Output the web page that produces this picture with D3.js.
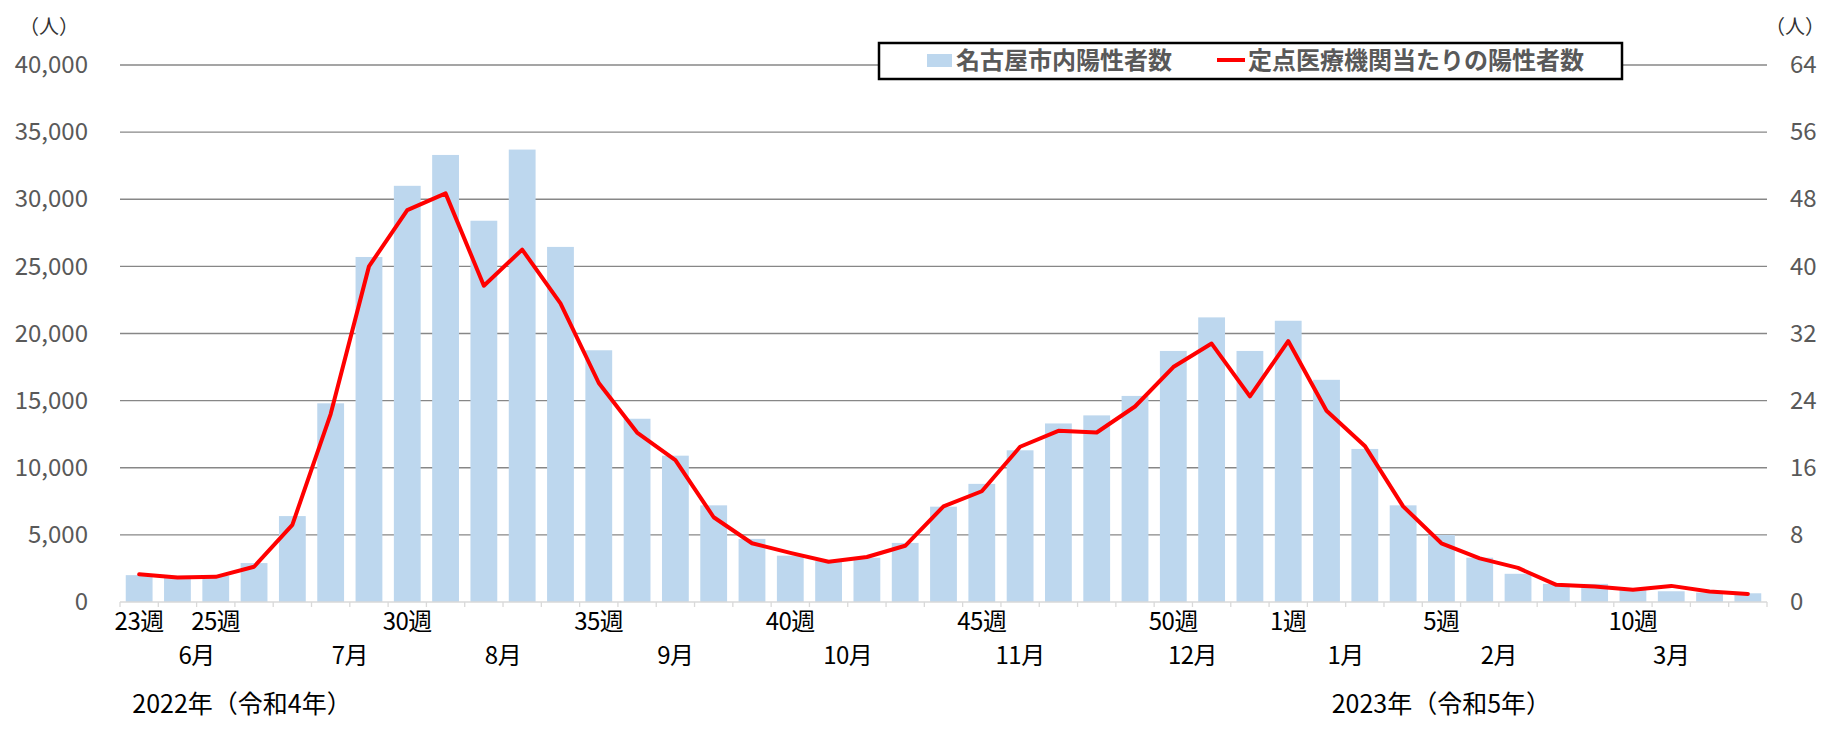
<!DOCTYPE html>
<html><head><meta charset="utf-8">
<script src="https://cdn.jsdelivr.net/npm/d3@7"></script>
<style>
body{margin:0;background:#fff}
svg{display:block}
text{font-family:"Noto Sans CJK JP","Noto Sans",sans-serif}
</style>
</head><body>
<svg id="c" width="1827" height="732"></svg>
<script>
// ---- data ----
const weeks = ["23週","24週","25週","26週","27週","28週","29週","30週","31週","32週","33週","34週","35週","36週","37週","38週","39週","40週","41週","42週","43週","44週","45週","46週","47週","48週","49週","50週","51週","52週","1週","2週","3週","4週","5週","6週","7週","8週","9週","10週","11週","12週","13週"];
const cases = [2000,1950,1950,2900,6400,14800,25700,31000,33300,28400,33700,26450,18750,13650,10900,7200,4700,3450,3050,3300,4400,7100,8800,11300,13300,13900,15350,18700,21200,18700,20950,16550,11400,7200,4990,3300,2100,1350,1350,1000,800,700,650];
const perSentinel = [3.3,2.93,3.0,4.2,9.2,22.4,40.0,46.7,48.7,37.7,42.0,35.6,26.1,20.2,16.9,10.1,7.0,5.86,4.8,5.36,6.7,11.4,13.2,18.5,20.4,20.2,23.3,28.0,30.8,24.5,31.1,22.8,18.6,11.4,7.0,5.2,4.06,2.05,1.84,1.46,1.92,1.26,0.96];
const shownWeeks = ["23週","25週","30週","35週","40週","45週","50週","1週","5週","10週"];
const months = ["6月","7月","8月","9月","10月","11月","12月","1月","2月","3月"];
const monthFirstWeek = ["23週","27週","31週","35週","40週","44週","49週","1週","5週","9週"];
const monthLastWeek  = ["26週","30週","34週","39週","43週","48週","52週","4週","8週","13週"];
const years = ["2022年（令和4年）","2023年（令和5年）"];
const yearAnchorWeek = ["26週","5週"];
const leftTicks = [0,5000,10000,15000,20000,25000,30000,35000,40000];
const rightTicks = [0,8,16,24,32,40,48,56,64];
const seriesNames = ["名古屋市内陽性者数","定点医療機関当たりの陽性者数"];
const unitLabel = "（人）";

// ---- layout ----
const L = 120, R = 1767, T = 65, B = 602;
const svg = d3.select("#c");
const FONT = '"Noto Sans CJK JP","Noto Sans",sans-serif';

const x = d3.scaleBand().domain(weeks).range([L, R]).paddingInner(0.3).paddingOuter(0.15);
const yL = d3.scaleLinear().domain([0, 40000]).range([B, T]);
const yR = d3.scaleLinear().domain([0, 64]).range([B, T]);
const step = x.step();
const cx = w => x(w) + x.bandwidth() / 2;

// gridlines
svg.append("g").selectAll("line").data(leftTicks.filter(d => d > 0)).join("line")
  .attr("x1", L).attr("x2", R)
  .attr("y1", d => yL(d)).attr("y2", d => yL(d))
  .attr("stroke", "#878787").attr("stroke-width", 1.3);

// bars
svg.append("g").selectAll("rect").data(cases).join("rect")
  .attr("x", (d, i) => x(weeks[i]))
  .attr("width", x.bandwidth())
  .attr("y", d => yL(d))
  .attr("height", d => B - yL(d))
  .attr("fill", "#BDD7EE");

// bottom axis line & boundary ticks
const bx = svg.append("g");
bx.append("line").attr("x1", L).attr("x2", R).attr("y1", B).attr("y2", B)
  .attr("stroke", "#d9d9d9").attr("stroke-width", 1.3);
bx.selectAll("line.tk").data(weeks.concat(["__end"])).join("line").attr("class", "tk")
  .attr("x1", (d, i) => i < weeks.length ? x(d) - step * 0.15 : R)
  .attr("x2", (d, i) => i < weeks.length ? x(d) - step * 0.15 : R)
  .attr("y1", B).attr("y2", B + 5)
  .attr("stroke", "#d9d9d9").attr("stroke-width", 1.3);

// line
svg.append("path").datum(perSentinel)
  .attr("fill", "none").attr("stroke", "#FF0000").attr("stroke-width", 4)
  .attr("stroke-linejoin", "round").attr("stroke-linecap", "round")
  .attr("d", d3.line().x((d, i) => cx(weeks[i])).y(d => yR(d)));

// left axis
const la = svg.append("g").attr("transform", `translate(${L},0)`)
  .call(d3.axisLeft(yL).tickValues(leftTicks).tickFormat(d3.format(",")).tickSize(0).tickPadding(32));
la.select(".domain").remove();
la.selectAll("text").attr("font-size", 24).attr("fill", "#595959").style("font-family", FONT);

// right axis
const ra = svg.append("g").attr("transform", `translate(${R},0)`)
  .call(d3.axisRight(yR).tickValues(rightTicks).tickSize(0).tickPadding(23));
ra.select(".domain").remove();
ra.selectAll("text").attr("font-size", 24).attr("fill", "#595959").style("font-family", FONT);

// week labels
const wa = svg.append("g").attr("transform", `translate(0,${B})`)
  .call(d3.axisBottom(x).tickValues(shownWeeks).tickSize(0));
wa.select(".domain").remove();
wa.selectAll("text").attr("y", 28).attr("dy", 0).attr("font-size", 24).attr("fill", "#000")
  .attr("letter-spacing", -0.5).style("font-family", FONT);

// month labels
svg.append("g").selectAll("text").data(months).join("text")
  .attr("x", (d, i) => (x(monthFirstWeek[i]) + x(monthLastWeek[i]) + x.bandwidth()) / 2)
  .attr("y", 664).attr("text-anchor", "middle").attr("font-size", 24).attr("fill", "#000")
  .attr("letter-spacing", -0.5)
  .text(d => d);

// year labels
svg.append("g").selectAll("text").data(years).join("text")
  .attr("x", (d, i) => cx(yearAnchorWeek[i]) + (i === 0 ? -12 : 0))
  .attr("y", 713).attr("text-anchor", "middle").attr("font-size", 25).attr("fill", "#000")
  .text(d => d);

// unit labels
svg.append("text").attr("x", 49).attr("y", 34).attr("text-anchor", "middle")
  .attr("font-size", 20).attr("fill", "#333").text(unitLabel);
svg.append("text").attr("x", 1825).attr("y", 34).attr("text-anchor", "end")
  .attr("font-size", 20).attr("fill", "#333").text(unitLabel);

// legend
const lg = svg.append("g");
lg.append("rect").attr("x", 879).attr("y", 43).attr("width", 743).attr("height", 36)
  .attr("fill", "#fff").attr("stroke", "#000").attr("stroke-width", 2.5);
lg.append("rect").attr("x", 927).attr("y", 54).attr("width", 25).attr("height", 13).attr("fill", "#BDD7EE");
lg.append("text").attr("x", 956).attr("y", 69).attr("font-size", 24).attr("font-weight", "bold")
  .attr("fill", "#595959").text(seriesNames[0]);
lg.append("line").attr("x1", 1217).attr("x2", 1245).attr("y1", 60).attr("y2", 60)
  .attr("stroke", "#FF0000").attr("stroke-width", 4);
lg.append("text").attr("x", 1248).attr("y", 69).attr("font-size", 24).attr("font-weight", "bold")
  .attr("fill", "#595959").text(seriesNames[1]);
</script>
</body></html>
